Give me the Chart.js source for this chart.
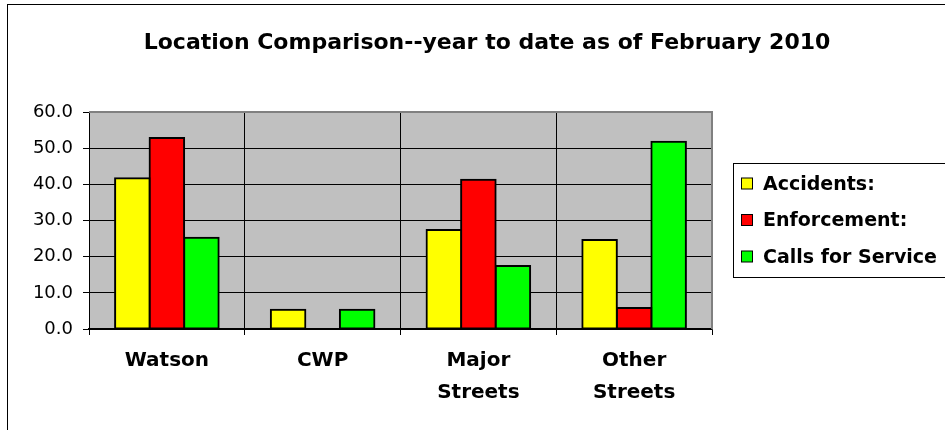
<!DOCTYPE html>
<html>
<head>
<meta charset="utf-8">
<script src="https://cdn.jsdelivr.net/npm/chart.js@4.4.1/dist/chart.umd.min.js"></script>
<style>
  html, body { margin: 0; padding: 0; background: #fff; }
  #wrap { width: 945px; height: 430px; position: relative; }
</style>
</head>
<body>
<div id="wrap"><canvas id="locChart" width="945" height="430"></canvas></div>
<script>
const chartTitle = 'Location Comparison--year to date as of February 2010';
const locations = ['Watson', 'CWP', ['Major', 'Streets'], ['Other', 'Streets']];
const seriesNames = ['Accidents:', 'Enforcement:', 'Calls for Service'];
const seriesColors = ['#FFFF00', '#FF0000', '#00FF00'];
const accidents = [41.7, 5.3, 27.4, 24.6];
const enforcement = [52.8, null, 41.3, 5.8];
const callsForService = [25.2, 5.3, 17.4, 51.8];
const yTicks = [0, 10, 20, 30, 40, 50, 60];

// frame, plot background, title, legend
let excelLook = {
    id: 'excelLook',
    beforeDraw(chart) {
        const ctx = chart.ctx;
        const a = chart.chartArea;
        ctx.save();
        ctx.fillStyle = '#fff';
        ctx.fillRect(0, 0, chart.width, chart.height);
        ctx.fillStyle = '#C0C0C0';
        ctx.fillRect(a.left, a.top, a.right - a.left, a.bottom - a.top);
        ctx.restore();
    },
    afterDraw(chart) {
        const ctx = chart.ctx;
        const a = chart.chartArea;
        ctx.save();
        // gray top and right edge of plot
        ctx.strokeStyle = '#808080';
        ctx.lineWidth = 2;
        ctx.beginPath();
        ctx.moveTo(a.left, a.top);
        ctx.lineTo(a.right, a.top);
        ctx.lineTo(a.right, a.bottom);
        ctx.stroke();

        // outer frame
        ctx.strokeStyle = '#000';
        ctx.lineWidth = 1;
        ctx.strokeRect(7.5, 4.5, chart.width, chart.height);

        // title
        ctx.fillStyle = '#000';
        ctx.font = 'bold 22px "DejaVu Sans"';
        ctx.textAlign = 'center';
        ctx.textBaseline = 'middle';
        ctx.fillText(chartTitle, 487, 43);

        // legend
        ctx.fillStyle = '#fff';
        ctx.fillRect(733.5, 163.5, 230, 114);
        ctx.strokeRect(733.5, 163.5, 230, 114);
        ctx.font = 'bold 19px "DejaVu Sans"';
        ctx.textAlign = 'left';
        chart.data.datasets.forEach((ds, i) => {
            const cy = 184 + i * 36.5;
            ctx.fillStyle = ds.backgroundColor;
            ctx.fillRect(741.5, cy - 6, 11, 11);
            ctx.strokeRect(741.5, cy - 6, 11, 11);
            ctx.fillStyle = '#000';
            ctx.fillText(ds.label, 763, cy + 1);
        });
        ctx.restore();
    }
};

let ctx = document.getElementById('locChart').getContext('2d');
let locChart = new Chart(ctx, {
    type: 'bar',
    data: {
        labels: locations,
        datasets: [
            { label: seriesNames[0], data: accidents, backgroundColor: seriesColors[0] },
            { label: seriesNames[1], data: enforcement, backgroundColor: seriesColors[1] },
            { label: seriesNames[2], data: callsForService, backgroundColor: seriesColors[2] }
        ].map(ds => Object.assign(ds, { borderColor: '#000', borderWidth: 2, borderSkipped: false, inflateAmount: 1 }))
    },
    options: {
        responsive: false,
        animation: false,
        devicePixelRatio: 1,
        layout: { padding: { top: 112, right: 233, left: 0, bottom: 0 } },
        datasets: { bar: { categoryPercentage: 0.665, barPercentage: 1.0 } },
        plugins: {
            legend: { display: false },
            title: { display: false },
            tooltip: { enabled: false }
        },
        scales: {
            y: {
                min: 0,
                max: 60,
                afterFit: (s) => { s.width = 89; },
                afterBuildTicks: (s) => { s.ticks = yTicks.map(v => ({ value: v })); },
                grid: { color: '#000', lineWidth: 1, tickLength: 6 },
                border: { color: '#000', width: 1 },
                ticks: {
                    color: '#000',
                    padding: 10,
                    font: { family: 'DejaVu Sans', size: 18 },
                    callback: (v) => Number(v).toFixed(1)
                }
            },
            x: {
                afterFit: (s) => { s.height = 101; },
                grid: { color: '#000', lineWidth: 1, tickLength: 6, offset: true },
                border: { color: '#000', width: 1.5 },
                ticks: {
                    color: '#000',
                    padding: 10,
                    maxRotation: 0,
                    font: { family: 'DejaVu Sans', size: 20, weight: 'bold', lineHeight: 1.6 }
                }
            }
        }
    },
    plugins: [excelLook]
});
</script>
</body>
</html>
